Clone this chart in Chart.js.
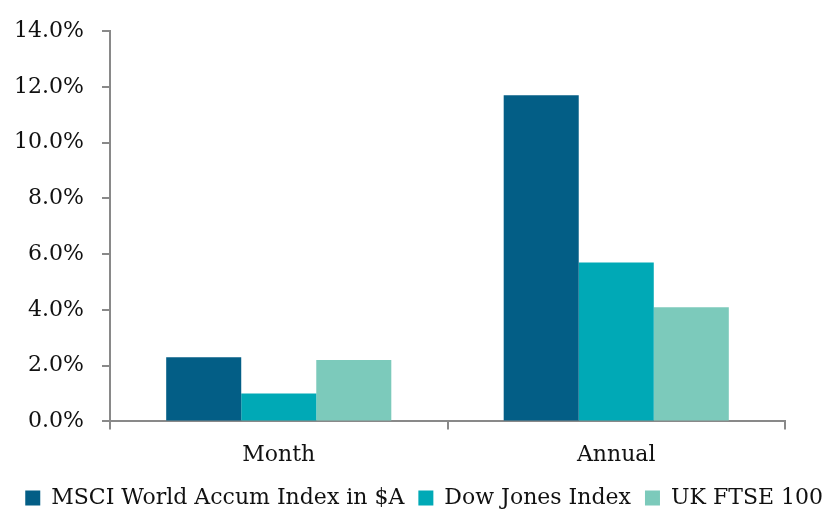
<!DOCTYPE html>
<html>
<head>
<meta charset="utf-8">
<script src="https://cdn.jsdelivr.net/npm/chart.js@4"></script>
<style>
  html, body { margin: 0; padding: 0; background: #fff; }
  #wrap { width: 823px; height: 512px; }
</style>
</head>
<body>
<div id="wrap"><canvas id="chart"></canvas></div>
<script>
// ---- DATA ----
const categories = ['Month', 'Annual'];
const msciWorld = [2.3, 11.7];
const dowJones = [1.0, 5.7];
const ukFtse = [2.2, 4.1];
const yTicks = [0, 2, 4, 6, 8, 10, 12, 14];

const axisColor = '#898989';
const font = { family: 'DejaVu Serif', size: 22 };

new Chart(document.getElementById('chart'), {
  type: 'bar',
  data: {
    labels: categories,
    datasets: [
      { label: 'MSCI World Accum Index in $A', data: msciWorld, backgroundColor: '#035E86' },
      { label: 'Dow Jones Index', data: dowJones, backgroundColor: '#00A9B6' },
      { label: 'UK FTSE 100', data: ukFtse, backgroundColor: '#7CCABB' }
    ]
  },
  options: {
    responsive: true,
    maintainAspectRatio: false,
    animation: false,
    datasets: { bar: { categoryPercentage: 0.667, barPercentage: 1.0 } },
    // legend runs right up to the bottom/right edges like the original
    layout: { padding: { top: 27, right: -14, left: 0, bottom: -7 } },
    plugins: {
      tooltip: { enabled: false },
      legend: {
        position: 'bottom',
        align: 'end',
        // empty title, its negative padding trims the legend's vertical space
        title: { display: true, text: '', font: { size: 1 }, padding: { top: 0, bottom: -10 } },
        labels: { font, color: '#111', boxWidth: 15, boxHeight: 15, padding: 14 }
      }
    },
    scales: {
      x: {
        grid: { display: true, drawOnChartArea: false, drawTicks: true, tickLength: 8, color: axisColor, lineWidth: 2, offset: true },
        border: { color: axisColor, width: 2 },
        ticks: { font, color: '#111', padding: 13 }
      },
      y: {
        min: 0,
        max: 14,
        afterBuildTicks: axis => { axis.ticks = yTicks.map(v => ({ value: v })); },
        afterFit: axis => { axis.width = 110; },
        grid: { display: true, drawOnChartArea: false, drawTicks: true, tickLength: 8, color: axisColor, lineWidth: 2 },
        border: { color: axisColor, width: 2 },
        ticks: { font, color: '#111', padding: 18, callback: v => v.toFixed(1) + '%' }
      },
      // empty right axis, only keeps the plot area clear of the right edge
      yRight: {
        position: 'right',
        grid: { display: false },
        border: { display: false },
        ticks: { display: false },
        afterFit: axis => { axis.width = 52; }
      }
    }
  }
});
</script>
</body>
</html>
